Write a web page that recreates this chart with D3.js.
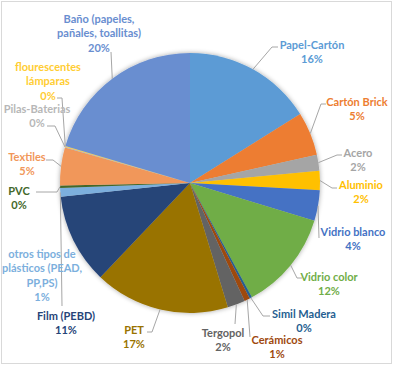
<!DOCTYPE html>
<html>
<head>
<meta charset="utf-8">
<script src="https://cdn.jsdelivr.net/npm/d3@7"></script>
<style>
  body { margin: 0; background: #fff; }
  svg { display: block; }
</style>
</head>
<body>
<div id="chart"></div>
<script>
// Data
const categories = [
  "Papel-Cartón", "Cartón Brick", "Acero", "Aluminio", "Vidrio blanco",
  "Vidrio color", "Simil Madera", "Cerámicos", "Tergopol", "PET",
  "Film (PEBD)", "otros tipos de plásticos (PEAD, PP,PS)", "PVC", "Textiles",
  "Pilas-Baterias", "flourescentes lámparas", "Baño (papeles, pañales, toallitas)"
];
const values = [16.1, 5.4, 2.0, 2.4, 3.8, 12.4, 0.3, 0.7, 2.2, 16.8, 11.2, 1.1, 0.3, 4.7, 0.1, 0.1, 20.4];
const labelLines = [
  ["Papel-Cartón"], ["Cartón Brick"], ["Acero"], ["Aluminio"], ["Vidrio blanco"],
  ["Vidrio color"], ["Simil Madera"], ["Cerámicos"], ["Tergopol"], ["PET"],
  ["Film (PEBD)"], ["otros tipos de", "plásticos (PEAD,", "PP,PS)"], ["PVC"], ["Textiles"],
  ["Pilas-Baterias"], ["flourescentes", "lámparas"], ["Baño (papeles,", "pañales, toallitas)"]
];
const colors = [
  "#5B9BD5", "#ED7D31", "#A5A5A5", "#FFC000", "#4472C4",
  "#70AD47", "#255E91", "#9E480E", "#636363", "#997300",
  "#264478", "#7CAFDD", "#43682B", "#F1975A",
  "#B7B7B7", "#FFCD33", "#698ED0"
];

// label layout: text centre x, first line y, leader anchor x/y, stub offset (0 = straight)
const labelLayout = [
  [312, 45, 278, 47, -6],
  [357, 102, 326, 104, -5],
  [358, 153, 342, 155, -5],
  [361, 185, 337, 188, -5],
  [353, 232, 319, 238, 0],
  [329, 277, 302, 278, -5],
  [304, 314, 270, 316, -7],
  [277, 340, 250, 337, 0],
  [223, 333, 235, 324, 0],
  [134, 330, 147, 332, 5],
  [66, 316, null, null, 0],
  [42, 254, 62, 306, 0],
  [19, 191, 36, 192, 21],
  [27, 157, 46, 160, 7],
  [37, 109, 47, 126, 8],
  [48, 67, 57, 98, 5],
  [99, 19, 111, 52, 0]
];

const W = 393, H = 366;
const cx = 190, cy = 183, r = 130;
const lineH = 14.5;

const svg = d3.select("#chart").append("svg")
  .attr("width", W).attr("height", H);

svg.append("rect")
  .attr("x", 1.5).attr("y", 1.5)
  .attr("width", 390).attr("height", 362)
  .attr("fill", "#fff")
  .attr("stroke", "#D9D9D9");

const defs = svg.append("defs");
const f = defs.append("filter").attr("id", "glow")
  .attr("x", "-10%").attr("y", "-10%").attr("width", "120%").attr("height", "120%");
f.append("feGaussianBlur").attr("in", "SourceAlpha").attr("stdDeviation", 2.5).attr("result", "b");
f.append("feComponentTransfer").attr("in", "b").attr("result", "s")
  .append("feFuncA").attr("type", "linear").attr("slope", 0.35);
const m = f.append("feMerge");
m.append("feMergeNode").attr("in", "s");
m.append("feMergeNode").attr("in", "SourceGraphic");

const total = d3.sum(values);
const pct = d3.format(".0%");

const pie = d3.pie().sort(null).value(d => d);
const arcs = pie(values);
const arc = d3.arc().innerRadius(0).outerRadius(r);

const g = svg.append("g").attr("transform", `translate(${cx},${cy})`);

g.append("g").attr("filter", "url(#glow)")
  .selectAll("path")
  .data(arcs)
  .enter()
  .append("path")
  .attr("d", arc)
  .attr("fill", (d, i) => colors[i]);

// leader lines
const edge = d => {
  const a = (d.startAngle + d.endAngle) / 2;
  return [cx + r * Math.sin(a), cy - r * Math.cos(a)];
};

arcs.forEach((d, i) => {
  const [tx, ty, ax, ay, stub] = labelLayout[i];
  if (ax == null) return;
  const p = edge(d);
  const pts = [[ax, ay]];
  if (stub) pts.push([ax + stub, ay]);
  pts.push(p);
  svg.insert("path", "g.labels")
    .attr("d", d3.line()(pts))
    .attr("fill", "none")
    .attr("stroke", "#A6A6A6")
    .attr("stroke-width", 1);
});

// labels
const labels = svg.append("g").attr("class", "labels")
  .style("font-family", "Lato, 'Open Sans', sans-serif")
  .style("font-weight", "bold")
  .style("font-size", "11px");

arcs.forEach((d, i) => {
  const [tx, ty] = labelLayout[i];
  const lines = labelLines[i].concat([pct(values[i] / total)]);
  const t = labels.append("text")
    .attr("text-anchor", "middle")
    .attr("fill", colors[i]);
  lines.forEach((s, k) => {
    t.append("tspan")
      .attr("x", tx)
      .attr("y", ty + k * lineH)
      .attr("dy", "0.35em")
      .text(s);
  });
});
</script>
</body>
</html>
